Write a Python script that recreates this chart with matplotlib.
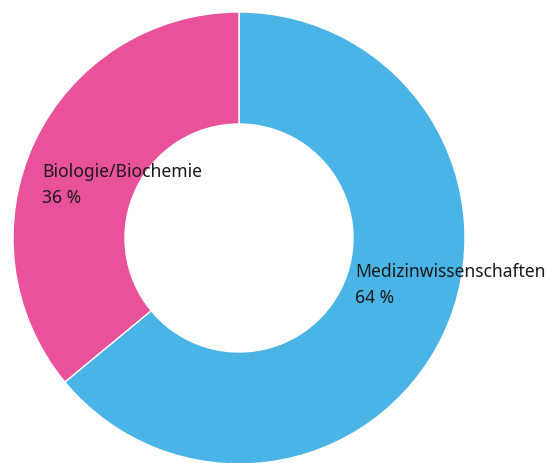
import matplotlib.pyplot as plt

categories = ['Medizinwissenschaften', 'Biologie/Biochemie']
shares = [64, 36]
colors = ['#4BB4E6', '#E9529B']

W, H = 548, 464
fig = plt.figure(figsize=(5.48, 4.64), dpi=100)
ax = fig.add_axes([0, 0, 1, 1])

# Donut, im Uhrzeigersinn ab 12 Uhr
ax.pie(shares, colors=colors, startangle=90, counterclock=False,
       center=(239, H - 239), radius=226,
       wedgeprops=dict(width=112, edgecolor='white', linewidth=1))

ax.set_xlim(0, W)
ax.set_ylim(0, H)
ax.set_aspect('equal')
ax.axis('off')

label_pos = [(355, 277), (42, 177)]
for name, val, (x, y) in zip(categories, shares, label_pos):
    ax.text(x, H - y, name, fontsize=12.6, family='Noto Sans', color='#1a1a1a', va='baseline', ha='left')
    ax.text(x, H - y - 26, f'{val} %', fontsize=12.6, family='Noto Sans', color='#1a1a1a', va='baseline', ha='left')

fig.savefig('out.png', dpi=100)
